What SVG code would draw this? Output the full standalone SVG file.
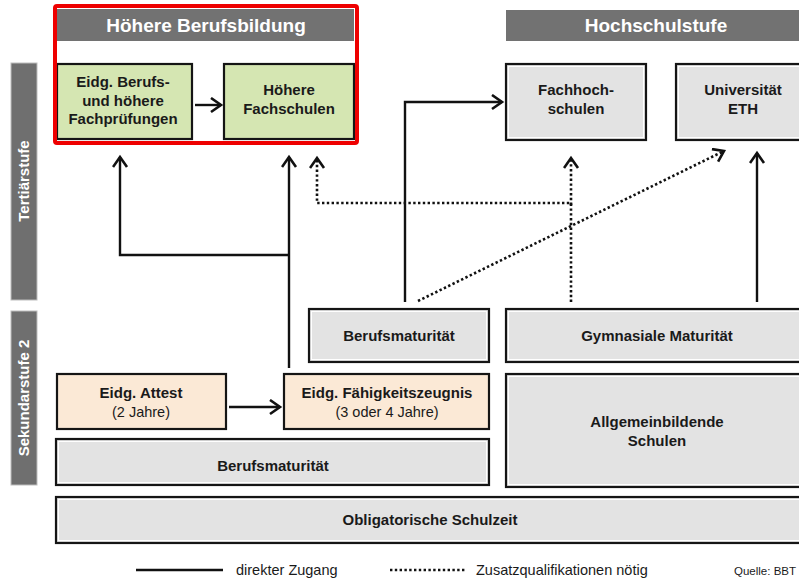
<svg xmlns="http://www.w3.org/2000/svg" width="799" height="580" viewBox="0 0 799 580">
<defs>
<marker id="ah" markerUnits="userSpaceOnUse" markerWidth="16" markerHeight="18" refX="11" refY="8" orient="auto">
<path d="M1,1 L11,8 L1,15" fill="none" stroke="#111" stroke-width="2.6"/>
</marker>
<style>
text{font-family:"Liberation Sans",Arial,sans-serif;fill:#1a1a1a;text-anchor:middle}
.b{font-weight:bold;font-size:15px}
.r{font-size:14.5px}
.hd{font-weight:bold;font-size:19px;fill:#fff}
.side{font-weight:bold;font-size:15px;fill:#fff}
.box{stroke:#151515;stroke-width:2.2}
.inner{fill:none;stroke:#fff;stroke-width:1}
.gray{fill:#e3e3e3}
.green{fill:#d5e6b2}
.peach{fill:#fbe9d6}
.bar{fill:#6f6f6f;stroke:#bdbdbd;stroke-width:1}
.solid{fill:none;stroke:#111;stroke-width:2.4}
.dot{fill:none;stroke:#111;stroke-width:2.6;stroke-dasharray:2.4 2.4}
</style>
</defs>
<rect width="799" height="580" fill="#fff"/>

<g id="side-tertiaer">
<rect class="bar" x="11" y="63" width="26" height="237"/>
<text class="side" transform="translate(29,181) rotate(-90)">Tertiärstufe</text>
</g>
<g id="side-sekundar">
<rect class="bar" x="11" y="311" width="26" height="174"/>
<text class="side" transform="translate(29,398) rotate(-90)">Sekundarstufe 2</text>
</g>

<g id="header-hbb">
<rect x="57" y="9" width="297" height="32" fill="#727272"/>
<text class="hd" x="206" y="32">Höhere Berufsbildung</text>
</g>
<g id="header-hs">
<rect x="506" y="10" width="293" height="31" fill="#727272"/>
<text class="hd" x="656" y="32">Hochschulstufe</text>
</g>

<g id="eidg-berufspruefungen">
<rect class="box green" x="57" y="64" width="135" height="75"/>
<text class="b" x="123" y="87">Eidg. Berufs-</text>
<text class="b" x="123" y="106">und höhere</text>
<text class="b" x="123" y="124">Fachprüfungen</text>
</g>
<g id="hoehere-fachschulen">
<rect class="box green" x="224" y="64" width="130" height="75"/>
<text class="b" x="289" y="95">Höhere</text>
<text class="b" x="289" y="114">Fachschulen</text>
</g>
<g id="fachhochschulen">
<rect class="box gray" x="506" y="64" width="140" height="76"/>
<rect class="inner" x="508.5" y="66.5" width="135" height="71"/>
<text class="b" x="576" y="95">Fachhoch-</text>
<text class="b" x="576" y="114">schulen</text>
</g>
<g id="universitaet">
<rect class="box gray" x="676" y="64" width="130" height="76"/>
<rect class="inner" x="678.5" y="66.5" width="125" height="71"/>
<text class="b" x="743" y="95">Universität</text>
<text class="b" x="743" y="114">ETH</text>
</g>

<g id="berufsmaturitaet-mid">
<rect class="box gray" x="309" y="309" width="180" height="53"/>
<rect class="inner" x="311.5" y="311.5" width="175" height="48"/>
<text class="b" x="399" y="341">Berufsmaturität</text>
</g>
<g id="gymnasiale-maturitaet">
<rect class="box gray" x="506" y="309" width="300" height="53"/>
<rect class="inner" x="508.5" y="311.5" width="295" height="48"/>
<text class="b" x="657" y="341">Gymnasiale Maturität</text>
</g>
<g id="eidg-attest">
<rect class="box peach" x="57" y="374" width="169" height="55"/>
<text class="b" x="141" y="398">Eidg. Attest</text>
<text class="r" x="141" y="417">(2 Jahre)</text>
</g>
<g id="eidg-faehigkeitszeugnis">
<rect class="box peach" x="284" y="374" width="205" height="55"/>
<text class="b" x="387" y="398">Eidg. Fähigkeitszeugnis</text>
<text class="r" x="387" y="417">(3 oder 4 Jahre)</text>
</g>
<g id="allgemeinbildende-schulen">
<rect class="box gray" x="506" y="374" width="300" height="113"/>
<rect class="inner" x="508.5" y="376.5" width="295" height="108"/>
<text class="b" x="657" y="427">Allgemeinbildende</text>
<text class="b" x="657" y="446">Schulen</text>
</g>
<g id="berufsmaturitaet-bottom">
<rect class="box gray" x="56" y="439" width="433" height="46"/>
<rect class="inner" x="58.5" y="441.5" width="428" height="41"/>
<text class="b" x="273" y="471">Berufsmaturität</text>
</g>
<g id="obligatorische-schulzeit">
<rect class="box gray" x="56" y="497" width="750" height="46"/>
<rect class="inner" x="58.5" y="499.5" width="745" height="41"/>
<text class="b" x="430" y="525">Obligatorische Schulzeit</text>
</g>

<g id="highlight">
<rect x="55" y="6" width="302" height="137" rx="2" fill="none" stroke="#ee0000" stroke-width="4"/>
</g>

<g id="connectors">
<path class="solid" d="M195,105 H221" marker-end="url(#ah)"/>
<path class="solid" d="M229,407 H280" marker-end="url(#ah)"/>
<path class="solid" d="M289,368 V157" marker-end="url(#ah)"/>
<path class="solid" d="M289,255 H120 V157" marker-end="url(#ah)"/>
<path class="dot" d="M571,302 V203 H317 V158" marker-end="url(#ah)"/>
<path class="dot" d="M571,205 V158" marker-end="url(#ah)"/>
<path class="solid" d="M405,302 V102 H502" marker-end="url(#ah)"/>
<path class="dot" d="M418,301 L724,151" marker-end="url(#ah)"/>
<path class="solid" d="M757,302 V153" marker-end="url(#ah)"/>
</g>

<g id="legend">
<line class="solid" x1="136" y1="570" x2="223" y2="570"/>
<text class="r" x="236" y="575" style="text-anchor:start">direkter Zugang</text>
<line class="dot" x1="390" y1="570" x2="465" y2="570"/>
<text class="r" x="476" y="575" style="text-anchor:start">Zusatzqualifikationen nötig</text>
<text x="734" y="575" style="text-anchor:start;font-size:11.5px">Quelle: BBT</text>
</g>
</svg>
